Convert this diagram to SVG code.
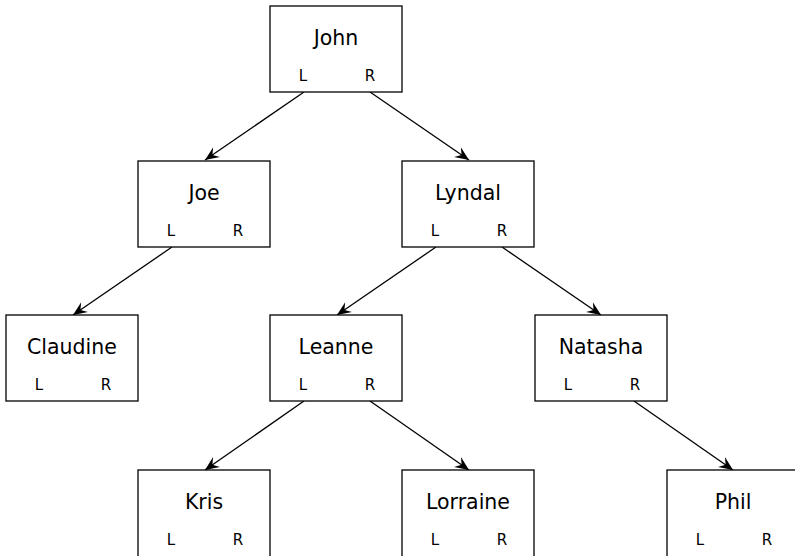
<svg xmlns="http://www.w3.org/2000/svg" width="795" height="556" viewBox="0 0 795 556">
  <style>
    .box { fill: #ffffff; stroke: #000000; stroke-width: 1.3; }
    .name { font-family: "DejaVu Sans", "Liberation Sans", sans-serif; font-size: 20.5px; text-anchor: middle; fill: #000; }
    .lr { font-family: "DejaVu Sans", "Liberation Sans", sans-serif; font-size: 15px; text-anchor: middle; fill: #000; }
    .edge { stroke: #000000; stroke-width: 1.3; fill: none; marker-end: url(#arrow); }
  </style>
  <defs>
    <marker id="arrow" viewBox="-14 -7 16 14" refX="0" refY="0" markerWidth="16" markerHeight="14" markerUnits="userSpaceOnUse" orient="auto">
      <path d="M0,0 L-14,-6 L-9,0 L-14,6 z" fill="#000"/>
    </marker>
  </defs>
  <rect width="795" height="556" fill="#ffffff"/>

  <g id="connectors">
    <line class="edge" x1="304" y1="92" x2="205" y2="160"/>
    <line class="edge" x1="370" y1="92" x2="469" y2="160"/>
    <line class="edge" x1="172" y1="247" x2="73" y2="315"/>
    <line class="edge" x1="436" y1="247" x2="337" y2="315"/>
    <line class="edge" x1="502" y1="247" x2="601" y2="315"/>
    <line class="edge" x1="304" y1="401" x2="205" y2="470"/>
    <line class="edge" x1="370" y1="401" x2="469" y2="470"/>
    <line class="edge" x1="634" y1="401" x2="733" y2="470"/>
  </g>

  <g id="john">
    <rect class="box" x="270" y="6" width="132" height="86"/>
    <text class="name" x="336" y="45">John</text>
    <text class="lr" x="303" y="81">L</text>
    <text class="lr" x="370" y="81">R</text>
  </g>
  <g id="joe">
    <rect class="box" x="138" y="161" width="132" height="86"/>
    <text class="name" x="204" y="200">Joe</text>
    <text class="lr" x="171" y="236">L</text>
    <text class="lr" x="238" y="236">R</text>
  </g>
  <g id="lyndal">
    <rect class="box" x="402" y="161" width="132" height="86"/>
    <text class="name" x="468" y="200">Lyndal</text>
    <text class="lr" x="435" y="236">L</text>
    <text class="lr" x="502" y="236">R</text>
  </g>
  <g id="claudine">
    <rect class="box" x="6" y="315" width="132" height="86"/>
    <text class="name" x="72" y="354">Claudine</text>
    <text class="lr" x="39" y="390">L</text>
    <text class="lr" x="106" y="390">R</text>
  </g>
  <g id="leanne">
    <rect class="box" x="270" y="315" width="132" height="86"/>
    <text class="name" x="336" y="354">Leanne</text>
    <text class="lr" x="303" y="390">L</text>
    <text class="lr" x="370" y="390">R</text>
  </g>
  <g id="natasha">
    <rect class="box" x="535" y="315" width="132" height="86"/>
    <text class="name" x="601" y="354">Natasha</text>
    <text class="lr" x="568" y="390">L</text>
    <text class="lr" x="635" y="390">R</text>
  </g>
  <!-- bottom row continues past the lower edge of the canvas -->
  <g id="kris">
    <rect class="box" x="138" y="470" width="132" height="90"/>
    <text class="name" x="204" y="509">Kris</text>
    <text class="lr" x="171" y="545">L</text>
    <text class="lr" x="238" y="545">R</text>
  </g>
  <g id="lorraine">
    <rect class="box" x="402" y="470" width="132" height="90"/>
    <text class="name" x="468" y="509">Lorraine</text>
    <text class="lr" x="435" y="545">L</text>
    <text class="lr" x="502" y="545">R</text>
  </g>
  <g id="phil">
    <rect class="box" x="667" y="470" width="132" height="90"/>
    <text class="name" x="733" y="509">Phil</text>
    <text class="lr" x="700" y="545">L</text>
    <text class="lr" x="767" y="545">R</text>
  </g>
</svg>
